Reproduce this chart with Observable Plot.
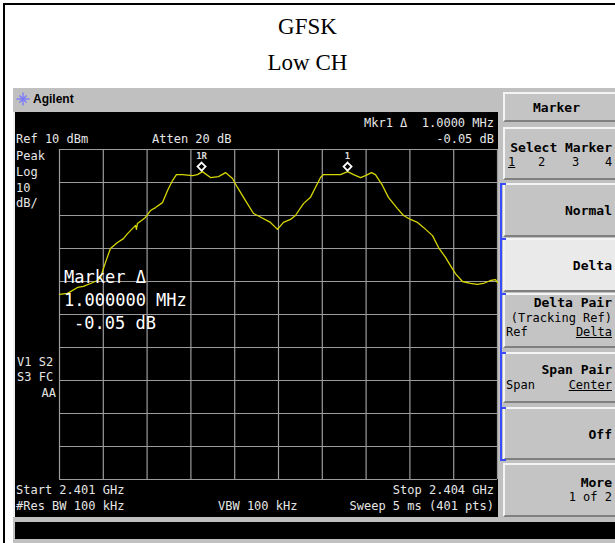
<!DOCTYPE html>
<html><head><meta charset="utf-8">
<script src="https://cdn.jsdelivr.net/npm/d3@7"></script>
<script src="https://cdn.jsdelivr.net/npm/@observablehq/plot@0.6"></script>
<style>
body{margin:0;background:#fff;}
#page{position:relative;width:615px;height:543px;overflow:hidden;background:#fff;}
.box{position:absolute;}
.lab{position:absolute;white-space:pre;font-family:"DejaVu Sans Mono",monospace;color:#e6e6e6;}
.key{position:absolute;box-sizing:border-box;background:#c4c4c4;border-style:solid;border-width:2px;border-color:#f4f4f4 #808080 #808080 #f4f4f4;}
.title{position:absolute;left:0;width:615px;text-align:center;font-family:"Liberation Serif","Times New Roman",serif;font-size:23px;color:#000;}
#plot{position:absolute;left:15px;top:112px;}
</style></head>
<body><div id="page"></div>
<script>
// ---- data ----
const freqMHz = [2401.000,2401.055,2401.123,2401.164,2401.212,2401.260,2401.281,2401.315,2401.349,2401.397,
  2401.438,2401.466,2401.521,2401.527,2401.534,2401.589,2401.623,2401.658,2401.705,2401.740,
  2401.774,2401.801,2401.842,2401.911,2401.945,2401.979,2402.034,2402.089,2402.137,2402.185,
  2402.219,2402.274,2402.329,2402.356,2402.445,2402.493,2402.534,2402.582,2402.616,2402.671,
  2402.719,2402.753,2402.788,2402.808,2402.925,2402.973,2403.014,2403.062,2403.096,2403.137,
  2403.164,2403.212,2403.253,2403.315,2403.356,2403.404,2403.452,2403.493,2403.555,2403.596,
  2403.644,2403.678,2403.712,2403.760,2403.815,2403.863,2403.904,2403.952,2403.986,2404.000];
const levelDbm = [-33.9,-33.6,-31.8,-31.5,-30.6,-29.7,-28.8,-24.2,-20.0,-18.2,
  -17.0,-15.5,-13.0,-14.2,-12.4,-10.6,-8.5,-7.6,-6.1,-2.4,
  0.6,2.4,2.4,2.1,2.4,3.3,1.5,1.8,3.0,1.2,
  -1.5,-5.5,-9.4,-10.0,-12.1,-14.2,-12.1,-11.2,-10.0,-6.4,
  -4.5,-1.5,1.5,2.4,2.4,3.3,2.4,1.5,2.1,3.0,
  2.4,-0.9,-4.5,-7.9,-10.0,-11.2,-12.1,-13.6,-16.1,-19.7,
  -22.7,-25.2,-27.6,-30.0,-30.6,-30.9,-30.6,-29.7,-29.4,-30.3];
const markerFreq = [2401.973, 2402.973];
const markerLevel = [3.3, 3.3];
const markerNames = ["1R", "1"];
const xGrid = [2401.0,2401.3,2401.6,2401.9,2402.2,2402.5,2402.8,2403.1,2403.4,2403.7,2404.0];
const yGrid = [-90,-80,-70,-60,-50,-40,-30,-20,-10,0,10];

const trace = freqMHz.map((f,i)=>({f, v: levelDbm[i]}));
const markers = markerFreq.map((f,i)=>({f, v: markerLevel[i], name: markerNames[i]}));

const page = document.getElementById("page");
function el(cls, css, txt){
  const d=document.createElement("div"); d.className=cls;
  Object.assign(d.style, css); if(txt!==undefined) d.textContent=txt;
  page.appendChild(d); return d;
}
function lab(txt, x, y, o={}){
  const fs=o.size||12;
  const css={fontSize:fs+"px", lineHeight:fs+"px", top:(y-fs/2)+"px"};
  if(o.align==="right") css.right=(615-x)+"px"; else css.left=x+"px";
  if(o.bold) css.fontWeight="bold";
  if(o.color) css.color=o.color;
  if(o.under) css.textDecoration="underline";
  return el("lab", css, txt);
}

// page frame + titles
el("box",{left:"3px",top:"3px",width:"620px",height:"550px",border:"2px solid #000",boxSizing:"border-box"});
el("title",{top:"13px",lineHeight:"28px"},"GFSK");
el("title",{top:"49px",lineHeight:"28px"},"Low CH");

// instrument body
el("box",{left:"13px",top:"88px",width:"602px",height:"455px",background:"#c0c0c0"});
el("box",{left:"13px",top:"112px",width:"2px",height:"405px",background:"#f0f0f0"});
el("box",{left:"15px",top:"522px",width:"600px",height:"17px",background:"#000"});
// header
const ic=document.createElementNS("http://www.w3.org/2000/svg","svg");
ic.setAttribute("width","14");ic.setAttribute("height","14");
ic.style.position="absolute";ic.style.left="16px";ic.style.top="92px";
for(let a=0;a<8;a++){const ln=document.createElementNS("http://www.w3.org/2000/svg","line");
  const r=a%2?5:6.5, t=a*Math.PI/4;
  ln.setAttribute("x1",7);ln.setAttribute("y1",7);ln.setAttribute("x2",7+r*Math.cos(t));ln.setAttribute("y2",7+r*Math.sin(t));
  ln.setAttribute("stroke","#7878ff");ln.setAttribute("stroke-width","1.3");ic.appendChild(ln);}
page.appendChild(ic);
el("lab",{left:"33px",top:"93px",fontFamily:"'Liberation Sans',Arial,sans-serif",fontWeight:"bold",fontSize:"12px",lineHeight:"12px",color:"#000"},"Agilent");

// plot (screen)
const chart = Plot.plot({
  width: 483, height: 405,
  marginLeft: 44, marginTop: 37, marginRight: 1, marginBottom: 38,
  style: {background: "#000", overflow: "visible"},
  x: {domain: [2401, 2404], axis: null},
  y: {domain: [-90, 10], axis: null},
  marks: [
    Plot.ruleX(xGrid, {stroke: "#9c9c9c", strokeWidth: 1.2}),
    Plot.ruleY(yGrid, {stroke: "#9c9c9c", strokeWidth: 1.2}),
    Plot.line(trace, {x: "f", y: "v", stroke: "#d6d600", strokeWidth: 1.3}),
    Plot.dot(markers, {x: "f", y: "v", symbol: "diamond2", r: 3.6, stroke: "#fff", strokeWidth: 1.8, fill: "none", dy: -5}),
    Plot.text(markers, {x: "f", y: "v", text: "name", dy: -16, fill: "#dcdcdc", fontSize: 9, fontFamily: "DejaVu Sans Mono", fontWeight: "bold"})
  ]
});
chart.id="plot";
page.appendChild(chart);

// screen annotations
lab("Mkr1 \u0394  1.0000 MHz", 494, 123, {align:"right"});
lab("Ref 10 dBm", 16, 139);
lab("Atten 20 dB", 152, 139);
lab("-0.05 dB", 494, 139, {align:"right"});
lab("Peak", 16, 156); lab("Log", 16, 172); lab("10", 16, 188); lab("dB/", 16, 203);
lab("V1 S2", 17, 362); lab("S3 FC", 17, 377); lab("AA", 56, 393, {align:"right"});
lab("Marker \u0394", 64, 277, {size:17, color:"#fff"});
lab("1.000000 MHz", 64, 300, {size:17, color:"#fff"});
lab("-0.05 dB", 74, 323, {size:17, color:"#fff"});
lab("Start 2.401 GHz", 16, 490);
lab("Stop 2.404 GHz", 494, 490, {align:"right"});
lab("#Res BW 100 kHz", 16, 506);
lab("VBW 100 kHz", 218, 506);
lab("Sweep 5 ms (401 pts)", 494, 506, {align:"right"});

// softkeys
const keys=[[92,122],[127,180],[183,237],[238,292],[293,348],[352,403],[407,460],[463,517]];
keys.forEach(([a,b],i)=>el("key",{left:"503px",top:a+"px",width:"114px",height:(b-a)+"px",background:i===3?"#eaeaea":"#c4c4c4"}));
const K="#000";
lab("Marker", 556, 107, {bold:true,color:K,size:13}).style.left="533px";
lab("Select Marker", 612, 147, {align:"right",bold:true,color:K,size:13});
lab("1", 508, 162, {color:K,under:true}); lab("2", 538, 162, {color:K}); lab("3", 572, 162, {color:K}); lab("4", 605, 162, {color:K});
lab("Normal", 612, 210, {align:"right",bold:true,color:K,size:13});
lab("Delta", 612, 265, {align:"right",bold:true,color:K,size:13});
lab("Delta Pair", 612, 302, {align:"right",bold:true,color:K,size:13});
lab("(Tracking Ref)", 612, 318, {align:"right",color:K});
lab("Ref", 506, 332, {color:K}); lab("Delta", 612, 332, {align:"right",color:K,under:true});
lab("Span Pair", 612, 369, {align:"right",bold:true,color:K,size:13});
lab("Span", 506, 385, {color:K}); lab("Center", 612, 385, {align:"right",color:K,under:true});
lab("Off", 612, 434, {align:"right",bold:true,color:K,size:13});
lab("More", 612, 482, {align:"right",bold:true,color:K,size:13});
lab("1 of 2", 612, 497, {align:"right",color:K});
// blue selection bracket
el("box",{left:"500px",top:"183px",width:"2px",height:"278px",background:"#3a4cff"});
[183,238,293,352,407,459].forEach(y=>el("box",{left:"500px",top:y+"px",width:"6px",height:"2px",background:"#3a4cff"}));
</script>
</body></html>
